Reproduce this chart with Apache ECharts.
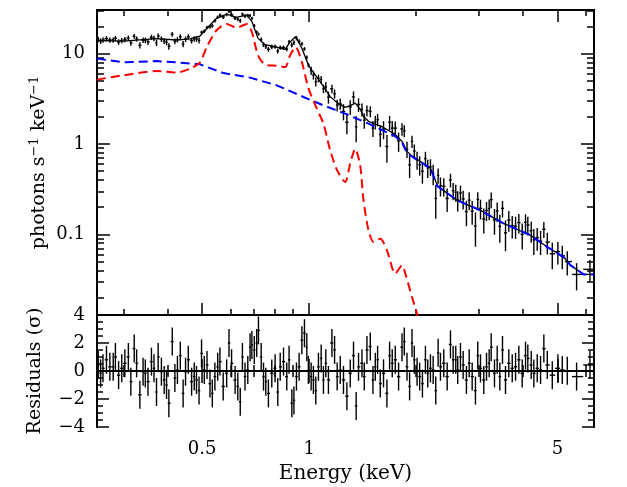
<!DOCTYPE html>
<html>
<head>
<meta charset="utf-8">
<script src="https://cdn.jsdelivr.net/npm/echarts@6/dist/echarts.min.js"></script>
<style>
  html, body { margin: 0; padding: 0; background: #fff; }
  #chart { width: 627px; height: 487px; }
</style>
</head>
<body>
<div id="chart"></div>
<script>
// spectrum bins (keV), counts, 1-sigma errors and residuals (sigma)
const binE = [0.255,0.259,0.263,0.269,0.275,0.281,0.285,0.291,0.297,0.303,
  0.310,0.315,0.322,0.327,0.334,0.341,0.346,0.352,0.360,0.366,
  0.372,0.376,0.384,0.391,0.397,0.403,0.412,0.419,0.426,0.434,
  0.442,0.449,0.457,0.467,0.475,0.482,0.490,0.498,0.507,0.516,
  0.526,0.534,0.543,0.553,0.561,0.573,0.586,0.595,0.605,0.619,
  0.630,0.640,0.649,0.660,0.672,0.682,0.690,0.701,0.712,0.720,
  0.733,0.744,0.755,0.768,0.785,0.802,0.816,0.829,0.847,0.865,
  0.878,0.894,0.906,0.921,0.937,0.954,0.970,0.985,0.995,1.013,
  1.028,1.044,1.062,1.081,1.097,1.114,1.133,1.159,1.179,1.199,
  1.223,1.249,1.277,1.305,1.333,1.356,1.377,1.408,1.429,1.454,
  1.486,1.512,1.535,1.558,1.585,1.619,1.655,1.684,1.713,1.747,
  1.785,1.825,1.852,1.885,1.917,1.947,1.976,2.012,2.046,2.083,
  2.124,2.156,2.194,2.233,2.271,2.306,2.341,2.392,2.445,2.498,
  2.542,2.585,2.618,2.665,2.712,2.770,2.820,2.875,2.937,2.981,
  3.034,3.100,3.155,3.210,3.252,3.322,3.381,3.439,3.499,3.568,
  3.645,3.727,3.808,3.890,3.976,4.062,4.123,4.215,4.287,4.382,
  4.478,4.574,4.677,4.831,5.010,5.154,5.324,5.655,6.166];

const flux = [14.4,13.8,14.2,14.7,14.2,14.2,14.8,13.5,14.0,14.4,
  14.9,13.2,15.6,14.6,12.4,14.15,14.1,13.5,15.2,14.8,
  13.2,15.7,14.55,13.85,13.4,12.1,16.4,13.75,14.3,15.4,
  12.8,14.45,15.4,14.0,14.6,14.6,14.1,17.3,17.8,19.5,
  19.9,20.4,23.2,25.3,26.7,25.5,27.2,29.4,26.9,24.8,
  24.1,23.2,27.4,26.1,26.6,26.4,24.7,20.5,17.4,16.5,
  14.35,12.6,12.0,11.2,11.9,12.0,10.7,11.7,11.7,11.3,
  13.5,12.5,13.3,14.9,13.7,12.9,11.3,9.1,7.5,6.5,
  5.8,4.9,5.35,5.2,4.1,4.3,3.3,4.1,3.6,2.7,
  2.78,2.3,1.74,2.58,3.33,1.55,2.74,2.42,1.84,2.35,
  2.3,1.5,1.75,1.86,1.28,1.46,0.94,1.74,1.5,1.5,
  1.08,1.47,1.4,0.88,0.59,1.07,0.835,0.67,0.59,0.5,
  0.69,0.545,0.56,0.47,0.25,0.45,0.345,0.34,0.25,0.40,
  0.305,0.292,0.24,0.287,0.247,0.179,0.239,0.181,0.124,0.244,
  0.194,0.148,0.184,0.193,0.243,0.145,0.181,0.123,0.194,0.104,
  0.144,0.125,0.123,0.135,0.100,0.136,0.127,0.110,0.087,0.092,
  0.084,0.114,0.082,0.061,0.0645,0.058,0.050,0.036,0.041];

const fluxErr = [0.98,0.98,0.98,0.97,0.97,0.97,0.97,0.97,0.97,0.97,
  0.97,0.97,0.98,0.98,0.98,1.0,1.0,1.0,1.02,1.02,
  1.02,1.02,1.02,1.0,1.0,1.0,1.0,1.0,1.0,1.01,
  1.01,1.01,1.01,1.04,1.05,1.07,1.09,0.74,0.80,0.86,
  0.93,0.99,1.06,1.13,1.17,1.21,1.23,1.22,1.18,1.15,
  1.14,1.16,1.18,1.20,1.19,1.10,1.03,0.86,0.72,0.66,
  0.75,0.71,0.69,0.68,0.66,0.65,0.64,0.63,0.62,0.64,
  0.71,0.79,0.83,0.84,0.74,0.63,0.54,0.46,0.41,0.68,
  0.62,0.57,0.52,0.475,0.436,0.56,0.50,0.45,0.42,0.40,
  0.385,0.47,0.46,0.48,0.50,0.50,0.47,0.40,0.36,0.33,
  0.315,0.30,0.30,0.29,0.35,0.33,0.32,0.31,0.295,0.28,
  0.26,0.235,0.21,0.18,0.17,0.163,0.156,0.15,0.143,0.136,
  0.13,0.124,0.119,0.12,0.101,0.087,0.083,0.078,0.073,0.069,
  0.066,0.063,0.061,0.059,0.058,0.056,0.054,0.053,0.051,0.049,
  0.048,0.046,0.044,0.05,0.048,0.046,0.044,0.042,0.04,0.039,
  0.037,0.035,0.034,0.033,0.032,0.031,0.030,0.029,0.028,0.026,
  0.025,0.023,0.022,0.020,0.018,0.017,0.015,0.012,0.011];

const resid = [0.43,-0.17,0.19,0.8,0.3,0.3,1.0,-0.3,0.19,0.55,
  1.0,-0.76,1.6,0.55,-1.7,-0.05,-0.17,-0.76,0.67,0.19,
  -1.5,1.0,-0.05,-0.64,-1.0,-2.3,2.1,-0.5,0.07,1.1,
  -1.6,-0.05,0.8,-0.76,-0.4,-0.64,-1.4,1.26,0.07,0.43,
  -0.9,-1.6,-0.4,0.3,0.67,-1.1,-0.17,2.0,0.55,-0.64,
  -1.1,-2.2,1.0,-0.4,0.07,1.7,1.86,1.5,2.0,2.9,
  1.0,-0.4,-0.76,-1.6,-0.17,0.19,-1.5,0.3,0.67,-0.4,
  0.8,-2.3,-2.1,-0.4,0.3,2.2,2.7,1.7,0.07,-0.4,
  -0.64,-1.4,0.3,0.9,-0.64,0.55,-0.64,2.0,1.5,-0.4,
  0.07,-0.64,-1.8,-0.17,1.1,-2.5,0.3,0.55,-0.4,1.5,
  1.75,-0.64,0.3,0.8,-0.9,-0.17,-1.6,1.1,0.55,0.8,
  -0.4,1.7,2.1,0.3,-1.1,2.0,0.8,-0.05,-0.4,-0.9,
  0.8,-0.17,0.19,0.07,-1.4,1.3,0.3,0.55,-0.4,1.9,
  0.8,0.8,0.07,1.0,0.43,-0.64,0.55,-0.4,-1.4,1.1,
  0.19,-0.64,0.3,0.55,1.7,-0.17,0.8,-0.4,1.5,-0.64,
  0.55,0.19,0.3,0.8,-0.17,1.1,0.9,0.43,-0.17,0.19,
  0.07,1.6,0.43,-0.3,0.19,0.07,0.02,-0.4,0.43];

// model curves
const totalE = [0.253,0.300,0.372,0.424,0.462,0.493,0.515,0.549,0.586,0.623,
  0.668,0.690,0.718,0.752,0.811,0.856,0.884,0.916,0.954,0.996,
  1.051,1.097,1.146,1.199,1.263,1.305,1.348,1.392,1.422,1.469,
  1.518,1.585,1.656,1.747,1.825,1.885,1.947,2.012,2.194,2.300,
  2.608,3.034,3.52,4.20,4.68,5.20,5.44,5.92,6.33];
const totalV = [14.0,13.8,14.7,14.2,14.6,15.7,19.0,24.7,27.4,25.3,
  26.8,22.8,14.8,12.6,11.8,11.2,13.5,15.5,11.5,7.4,
  5.5,4.36,3.35,2.86,2.55,2.66,2.84,2.43,2.02,1.79,
  1.68,1.59,1.45,1.28,1.07,0.83,0.74,0.68,0.54,0.34,
  0.238,0.1845,0.1324,0.0975,0.0723,0.0561,0.0454,0.036,0.036];

const blueE = [0.253,0.300,0.372,0.424,0.493,0.574,0.682,0.811,0.964,1.097,
  1.263,1.469,1.747,1.825,1.885,2.194,2.300,2.608,3.034,3.52,
  4.20,4.68,5.20,5.44,5.92,6.33];
const blueV = [8.83,8.03,8.30,8.03,7.63,6.11,5.44,4.47,3.32,2.68,
  2.17,1.68,1.22,1.04,0.79,0.54,0.34,0.238,0.1845,0.1324,
  0.0975,0.0723,0.0561,0.0454,0.036,0.036];

const redE = [0.253,0.300,0.372,0.424,0.462,0.493,0.515,0.549,0.586,0.623,
  0.668,0.690,0.718,0.752,0.811,0.856,0.884,0.916,0.954,0.996,
  1.051,1.097,1.146,1.199,1.263,1.305,1.348,1.392,1.422,1.469,
  1.518,1.585,1.656,1.747,1.825,1.865,1.947,2.012,2.060];
const redV = [5.17,5.77,6.43,6.18,6.84,8.03,11.86,18.2,21.4,19.45,
  21.3,17.4,9.6,7.57,7.35,7.12,9.6,11.86,8.09,4.11,
  2.47,1.68,0.852,0.511,0.380,0.611,0.885,0.581,0.238,0.1107,
  0.0822,0.0896,0.0665,0.0367,0.0454,0.0367,0.0202,0.01324,0.009];

// tick values
const xMajor = [0.5, 1, 5];
const xMinor = [0.3, 0.4, 0.6, 0.7, 0.8, 0.9, 2, 3, 4, 6];
const yMajor = [0.1, 1, 10];
const yMinor = [0.02,0.03,0.04,0.05,0.06,0.07,0.08,0.09,
  0.2,0.3,0.4,0.5,0.6,0.7,0.8,0.9, 2,3,4,5,6,7,8,9, 20,30];
const rMajor = [-4, -2, 0, 2, 4];
const rMinor = [-3.5,-3,-2.5,-1.5,-1,-0.5,0.5,1,1.5,2.5,3,3.5];

const E_MIN = 0.253, E_MAX = 6.33;
const Y_MIN = 0.0128, Y_MAX = 30.5;
const FONT = 'DejaVu Serif';

// bin edges from neighbouring centres
const edges = binE.map((e, i) => {
  const lo = i > 0 ? Math.sqrt(e * binE[i - 1]) : e * e / Math.sqrt(e * binE[1]);
  const hi = i < binE.length - 1 ? Math.sqrt(e * binE[i + 1]) : e * e / Math.sqrt(e * binE[i - 1]);
  return [lo, hi];
});

const specData = binE.map((e, i) => [e, flux[i] - fluxErr[i], flux[i] + fluxErr[i], flux[i], edges[i][0], edges[i][1]]);
const residData = binE.map((e, i) => [e, resid[i] - 1, resid[i] + 1, resid[i], edges[i][0], edges[i][1]]);

function crossItem(params, api) {
  const e = api.value(0);
  const v = api.value(3);
  const a = api.coord([e, api.value(1)]);
  const b = api.coord([e, api.value(2)]);
  const l = api.coord([api.value(4), v]);
  const r = api.coord([api.value(5), v]);
  const st = { stroke: '#000', lineWidth: 1.4 };
  return {
    type: 'group',
    children: [
      { type: 'line', shape: { x1: a[0], y1: a[1], x2: b[0], y2: b[1] }, style: st },
      { type: 'line', shape: { x1: l[0], y1: l[1], x2: r[0], y2: r[1] }, style: st }
    ]
  };
}

const labelStyle = { color: '#000', fontSize: 18, fontFamily: FONT };

function xAx(grid, pos, ticks, len, label) {
  return {
    type: 'log', logBase: 10, gridIndex: grid, position: pos,
    min: E_MIN, max: E_MAX,
    axisLine: { show: true, lineStyle: { color: '#000', width: 2 } },
    axisTick: { show: true, inside: true, length: len, customValues: ticks,
      lineStyle: { color: '#000', width: 1.5 } },
    axisLabel: label ? Object.assign({ show: true, customValues: ticks, margin: 13,
      formatter: v => String(+(+v).toPrecision(3)) }, labelStyle) : { show: false },
    splitLine: { show: false }
  };
}

function yLog(pos, ticks, len, label) {
  return {
    type: 'log', logBase: 10, gridIndex: 0, position: pos,
    min: Y_MIN, max: Y_MAX,
    axisLine: { show: true, lineStyle: { color: '#000', width: 2 } },
    axisTick: { show: true, inside: true, length: len, customValues: ticks,
      lineStyle: { color: '#000', width: 1.5 } },
    axisLabel: label ? Object.assign({ show: true, customValues: ticks, margin: 12,
      formatter: v => String(+(+v).toPrecision(3)) }, labelStyle) : { show: false },
    splitLine: { show: false }
  };
}

function yRes(pos, ticks, len, label) {
  return {
    type: 'value', gridIndex: 1, position: pos, min: -4, max: 4,
    axisLine: { show: true, lineStyle: { color: '#000', width: 2 } },
    axisTick: { show: true, inside: true, length: len, customValues: ticks,
      lineStyle: { color: '#000', width: 1.5 } },
    axisLabel: label ? Object.assign({ show: true, customValues: ticks, margin: 12,
      formatter: v => (v < 0 ? '\u2212' + Math.abs(v) : String(v)) }, labelStyle) : { show: false },
    splitLine: { show: false }
  };
}

const xAxes = [
  xAx(0, 'bottom', xMajor, 12, false),
  xAx(0, 'bottom', xMinor, 6, false),
  xAx(0, 'top', xMajor, 12, false),
  xAx(0, 'top', xMinor, 6, false),
  xAx(1, 'bottom', xMajor, 12, true),
  xAx(1, 'bottom', xMinor, 6, false),
  xAx(1, 'top', xMajor, 12, false),
  xAx(1, 'top', xMinor, 6, false)
];
xAxes[4].name = 'Energy (keV)';
xAxes[4].nameLocation = 'middle';
xAxes[4].nameGap = 37;
xAxes[4].nameMoveOverlap = false;
xAxes[4].nameTextStyle = { color: '#000', fontSize: 20, fontFamily: FONT };

const yAxes = [
  yLog('left', yMajor, 13, true),
  yLog('left', yMinor, 7, false),
  yLog('right', yMajor, 13, false),
  yLog('right', yMinor, 7, false),
  yRes('left', rMajor, 12, true),
  yRes('left', rMinor, 6, false),
  yRes('right', rMajor, 12, false),
  yRes('right', rMinor, 6, false)
];
yAxes[0].name = '{a|photons s}{s|\u22121}{a| keV}{s|\u22121}';
yAxes[0].nameLocation = 'middle';
yAxes[0].nameRotate = 90;
yAxes[0].nameGap = 47;
yAxes[0].nameMoveOverlap = false;
yAxes[0].nameTextStyle = {
  color: '#000', fontFamily: FONT,
  rich: {
    a: { fontSize: 19, fontFamily: FONT, color: '#000', lineHeight: 22 },
    s: { fontSize: 13, fontFamily: FONT, color: '#000', verticalAlign: 'top', lineHeight: 12 }
  }
};
yAxes[4].name = 'Residuals (\u03c3)';
yAxes[4].nameLocation = 'middle';
yAxes[4].nameRotate = 90;
yAxes[4].nameGap = 52;
yAxes[4].nameMoveOverlap = false;
yAxes[4].nameTextStyle = { color: '#000', fontSize: 19, fontFamily: FONT };

const chart = echarts.init(document.getElementById('chart'), null, { renderer: 'canvas' });
chart.setOption({
  animation: false,
  backgroundColor: '#fff',
  textStyle: { fontFamily: FONT },
  grid: [
    { left: 97, top: 10, width: 497, height: 305, outerBoundsMode: 'none', containLabel: false },
    { left: 97, top: 315, width: 497, height: 112, outerBoundsMode: 'none', containLabel: false }
  ],
  xAxis: xAxes,
  yAxis: yAxes,
  series: [
    {
      type: 'custom', name: 'data', xAxisIndex: 0, yAxisIndex: 0, clip: true,
      renderItem: crossItem, encode: { x: [0, 4, 5], y: [1, 2, 3] }, data: specData, silent: true
    },
    {
      type: 'line', name: 'model', xAxisIndex: 0, yAxisIndex: 0, showSymbol: false, clip: true,
      data: totalE.map((e, i) => [e, totalV[i]]),
      lineStyle: { color: '#000', width: 1.3 }, silent: true
    },
    {
      type: 'line', name: 'powerlaw', xAxisIndex: 0, yAxisIndex: 0, showSymbol: false, clip: true,
      data: blueE.map((e, i) => [e, blueV[i]]),
      lineStyle: { color: '#0000ff', width: 2, type: [9, 5] }, silent: true
    },
    {
      type: 'line', name: 'thermal', xAxisIndex: 0, yAxisIndex: 0, showSymbol: false, clip: true,
      smooth: 0.25,
      data: redE.map((e, i) => [e, redV[i]]),
      lineStyle: { color: '#ff0000', width: 2, type: [9, 5] }, silent: true
    },
    {
      type: 'custom', name: 'residuals', xAxisIndex: 4, yAxisIndex: 4, clip: true,
      renderItem: crossItem, encode: { x: [0, 4, 5], y: [1, 2, 3] }, data: residData, silent: true
    },
    {
      type: 'line', name: 'zero', xAxisIndex: 4, yAxisIndex: 4, data: [], silent: true,
      markLine: {
        silent: true, symbol: ['none', 'none'], label: { show: false },
        lineStyle: { color: '#000', width: 1.5, type: 'solid' },
        data: [{ yAxis: 0 }]
      }
    }
  ]
});
</script>
</body>
</html>
